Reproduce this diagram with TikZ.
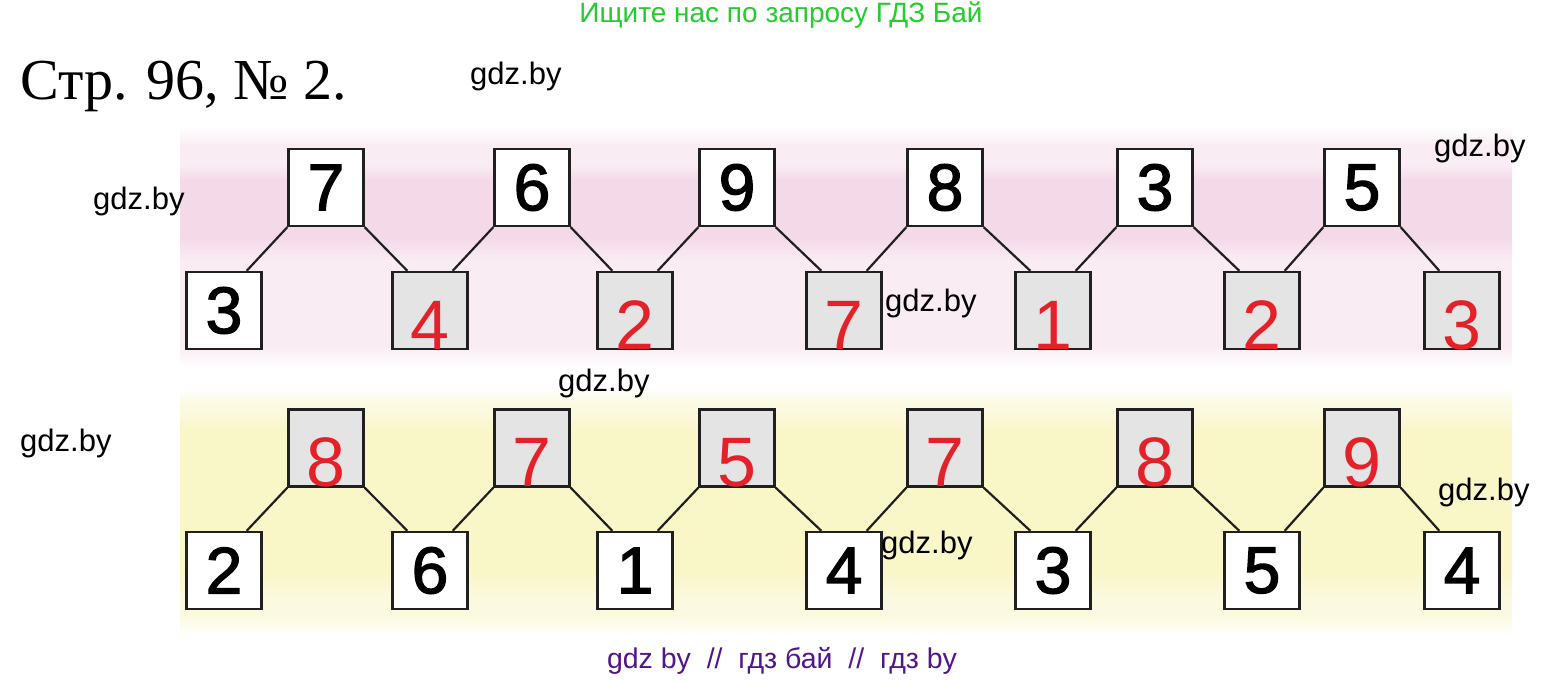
\documentclass[tikz,border=0pt]{standalone}
\usepackage{fontspec}
\setmainfont{Liberation Sans}
\newfontfamily\titlefont{Liberation Serif}
\newfontfamily\digitfont[FakeBold=2]{Liberation Sans}

\definecolor{boxgray}{RGB}{228,228,228}
\definecolor{digred}{RGB}{228,32,40}
\definecolor{linegray}{RGB}{32,32,32}
\definecolor{topgreen}{RGB}{36,204,46}
\definecolor{footpurple}{RGB}{80,22,140}
\definecolor{pinkband}{RGB}{249,236,243}
\definecolor{pinkdeep}{RGB}{244,218,233}
\definecolor{yellowband}{RGB}{251,250,224}
\definecolor{yellowdeep}{RGB}{249,246,200}

\begin{document}
\begin{tikzpicture}[x=1pt,y=-1pt]
	\tikzstyle{box}=[rectangle,draw=linegray,line width=2.4pt,fill=white,minimum width=75pt,minimum height=77pt,inner sep=0pt,font=\digitfont\fontsize{66}{66}\selectfont]
	\tikzstyle{ans}=[box,fill=boxgray,text=digred,text height=77pt,text depth=0pt,font=\fontsize{70}{70}\selectfont]
	\tikzstyle{edge}=[draw=linegray,line width=2.2pt]
	\tikzstyle{wmark}=[anchor=base west,inner sep=0pt,font=\fontsize{31}{31}\selectfont]

	\useasboundingbox (0,0) rectangle (1565,682);

	% backgrounds
	\shade[top color=white,bottom color=pinkband] (180,126) rectangle (1512,146);
	\fill[pinkband] (180,146) rectangle (1512,346);
	\shade[top color=pinkband,bottom color=white] (180,346) rectangle (1512,368);
	\shade[top color=pinkband,bottom color=pinkdeep] (180,165) rectangle (1512,180);
	\fill[pinkdeep] (180,180) rectangle (1512,238);
	\shade[top color=pinkdeep,bottom color=pinkband] (180,238) rectangle (1512,260);
	\shade[top color=white,bottom color=yellowband] (180,388) rectangle (1512,404);
	\fill[yellowband] (180,404) rectangle (1512,616);
	\shade[top color=yellowband,bottom color=white] (180,616) rectangle (1512,636);
	\shade[top color=yellowband,bottom color=yellowdeep] (180,410) rectangle (1512,430);
	\fill[yellowdeep] (180,430) rectangle (1512,570);
	\shade[top color=yellowdeep,bottom color=yellowband] (180,570) rectangle (1512,600);

	% texts
	\node [anchor=base,inner sep=0pt,text=topgreen,font=\fontsize{28}{28}\selectfont] (head) at (781,23) {Ищите нас по запросу ГДЗ Бай};
	\node [anchor=base west,inner sep=0pt,font=\titlefont\fontsize{58}{58}\selectfont] (title) at (20,100) {Стр. 96, № 2.};
	\node [anchor=base,inner sep=0pt,text=footpurple,font=\fontsize{28.5}{28.5}\selectfont] (foot) at (782,668) {gdz by\ \ //\ \ гдз бай\ \ //\ \ гдз by};

	% first picture
	\node [box] (a1) at (326,187.5) {7};
	\node [box] (a2) at (532,187.5) {6};
	\node [box] (a3) at (737,187.5) {9};
	\node [box] (a4) at (945,187.5) {8};
	\node [box] (a5) at (1155,187.5) {3};
	\node [box] (a6) at (1362,187.5) {5};

	\node [box] (b1) at (224,310.5) {3};
	\node [ans] (b2) at (430,310.5) {4};
	\node [ans] (b3) at (635,310.5) {2};
	\node [ans] (b4) at (844,310.5) {7};
	\node [ans] (b5) at (1053,310.5) {1};
	\node [ans] (b6) at (1262,310.5) {2};
	\node [ans] (b7) at (1462,310.5) {3};

	\path[edge] (a1.south west) -- ([xshift=-16pt]b1.north east);
	\path[edge] (a1.south east) -- ([xshift=16pt]b2.north west);
	\path[edge] (a2.south west) -- ([xshift=-16pt]b2.north east);
	\path[edge] (a2.south east) -- ([xshift=16pt]b3.north west);
	\path[edge] (a3.south west) -- ([xshift=-16pt]b3.north east);
	\path[edge] (a3.south east) -- ([xshift=16pt]b4.north west);
	\path[edge] (a4.south west) -- ([xshift=-16pt]b4.north east);
	\path[edge] (a4.south east) -- ([xshift=16pt]b5.north west);
	\path[edge] (a5.south west) -- ([xshift=-16pt]b5.north east);
	\path[edge] (a5.south east) -- ([xshift=16pt]b6.north west);
	\path[edge] (a6.south west) -- ([xshift=-16pt]b6.north east);
	\path[edge] (a6.south east) -- ([xshift=16pt]b7.north west);

	% second picture
	\node [ans] (c1) at (326,448) {8};
	\node [ans] (c2) at (532,448) {7};
	\node [ans] (c3) at (737,448) {5};
	\node [ans] (c4) at (945,448) {7};
	\node [ans] (c5) at (1155,448) {8};
	\node [ans] (c6) at (1362,448) {9};

	\node [box] (d1) at (224,570.5) {2};
	\node [box] (d2) at (430,570.5) {6};
	\node [box] (d3) at (635,570.5) {1};
	\node [box] (d4) at (844,570.5) {4};
	\node [box] (d5) at (1053,570.5) {3};
	\node [box] (d6) at (1262,570.5) {5};
	\node [box] (d7) at (1462,570.5) {4};

	\path[edge] (c1.south west) -- ([xshift=-16pt]d1.north east);
	\path[edge] (c1.south east) -- ([xshift=16pt]d2.north west);
	\path[edge] (c2.south west) -- ([xshift=-16pt]d2.north east);
	\path[edge] (c2.south east) -- ([xshift=16pt]d3.north west);
	\path[edge] (c3.south west) -- ([xshift=-16pt]d3.north east);
	\path[edge] (c3.south east) -- ([xshift=16pt]d4.north west);
	\path[edge] (c4.south west) -- ([xshift=-16pt]d4.north east);
	\path[edge] (c4.south east) -- ([xshift=16pt]d5.north west);
	\path[edge] (c5.south west) -- ([xshift=-16pt]d5.north east);
	\path[edge] (c5.south east) -- ([xshift=16pt]d6.north west);
	\path[edge] (c6.south west) -- ([xshift=-16pt]d6.north east);
	\path[edge] (c6.south east) -- ([xshift=16pt]d7.north west);

	% watermarks
	\node [wmark] (w1) at (470,85) {gdz.by};
	\node [wmark] (w2) at (93,209) {gdz.by};
	\node [wmark] (w3) at (1434,157) {gdz.by};
	\node [wmark] (w4) at (885,311) {gdz.by};
	\node [wmark] (w5) at (558,391) {gdz.by};
	\node [wmark] (w6) at (20,451) {gdz.by};
	\node [wmark] (w7) at (1438,500) {gdz.by};
	\node [wmark] (w8) at (881,553) {gdz.by};

\end{tikzpicture}
\end{document}
